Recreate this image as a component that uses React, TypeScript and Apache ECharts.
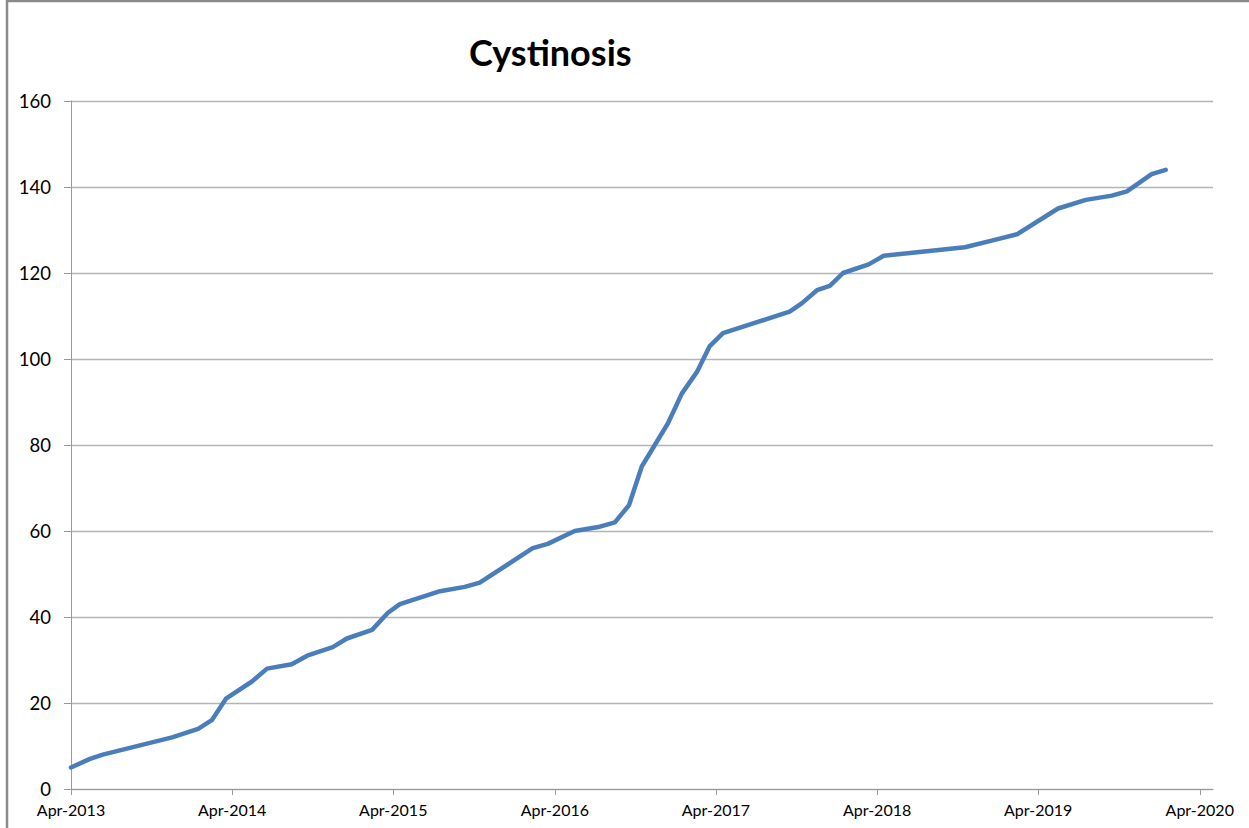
import React, { useEffect, useRef } from "react";
import * as echarts from "echarts";

const chartTitle = "Cystinosis";

const dates = [
  "2013-04-01", "2013-05-14", "2013-06-12", "2013-11-16", "2014-01-14", "2014-02-14",
  "2014-03-18", "2014-05-16", "2014-06-19", "2014-08-14", "2014-09-18", "2014-11-15",
  "2014-12-17", "2015-02-12", "2015-03-20", "2015-04-16", "2015-07-16", "2015-09-10",
  "2015-10-14", "2016-02-11", "2016-03-16", "2016-05-16", "2016-07-12", "2016-08-15",
  "2016-09-16", "2016-10-15", "2016-12-13", "2017-01-14", "2017-02-17", "2017-03-18",
  "2017-04-17", "2017-09-15", "2017-10-13", "2017-11-16", "2017-12-15", "2018-01-14",
  "2018-03-13", "2018-04-16", "2018-10-17", "2019-01-04", "2019-02-12", "2019-05-16",
  "2019-07-18", "2019-09-15", "2019-10-19", "2019-12-14", "2020-01-15",
];

const counts = [
  5, 7, 8, 12, 14, 16,
  21, 25, 28, 29, 31, 33,
  35, 37, 41, 43, 46, 47,
  48, 56, 57, 60, 61, 62,
  66, 75, 85, 92, 97, 103,
  106, 111, 113, 116, 117, 120,
  122, 124, 126, 128, 129, 135,
  137, 138, 139, 143, 144,
];

const tickYears = [2013, 2014, 2015, 2016, 2017, 2018, 2019, 2020];
const yTicks = [0, 20, 40, 60, 80, 100, 120, 140, 160];
const axisStart = "2013-04-01";
const axisEnd = "2020-05-01";

const DAY = 86400000;
function dayIndex(s: string): number {
  const [y, m, d] = s.split("-").map(Number);
  const [y0, m0, d0] = axisStart.split("-").map(Number);
  return Math.round((Date.UTC(y, m - 1, d) - Date.UTC(y0, m0 - 1, d0)) / DAY);
}

export default function App() {
  const ref = useRef<HTMLDivElement>(null);
  useEffect(() => {
    if (!ref.current) return;
    const chart = echarts.init(ref.current, null, { renderer: "svg" });
    const tickVals = tickYears.map((y) => dayIndex(`${y}-04-01`));
    const labelOf: Record<number, string> = {};
    tickYears.forEach((y, i) => {
      labelOf[tickVals[i]] = "Apr-" + y;
    });
    const seriesData = dates.map((d, i) => [dayIndex(d), counts[i]]);
    chart.setOption({
      animation: false,
      backgroundColor: "#ffffff",
      title: {
        text: chartTitle,
        left: 464,
        top: 29,
        textStyle: {
          fontFamily: "Lato",
          fontWeight: "bold",
          fontSize: 36,
          color: "#000000",
        },
      },
      graphic: [
        {
          type: "rect",
          shape: { x: 7, y: 1, width: 1300, height: 900 },
          style: { fill: "none", stroke: "#8a8a8a", lineWidth: 2.5 },
          silent: true,
        },
      ],
      grid: { left: 71, right: 36, top: 101, bottom: 39, containLabel: false },
      xAxis: {
        type: "value",
        min: 0,
        max: dayIndex(axisEnd),
        axisLine: { show: true, lineStyle: { color: "#9a9a9a", width: 1 } },
        axisTick: {
          show: true,
          length: 6,
          inside: false,
          customValues: tickVals,
          lineStyle: { color: "#9a9a9a" },
        },
        axisLabel: {
          customValues: tickVals,
          formatter: (v: number) => labelOf[Math.round(v)] ?? "",
          fontFamily: "Lato",
          fontSize: 16,
          color: "#000000",
          margin: 12,
          hideOverlap: false,
          showMinLabel: true,
          showMaxLabel: true,
        },
        splitLine: { show: false },
      },
      yAxis: {
        type: "value",
        min: yTicks[0],
        max: yTicks[yTicks.length - 1],
        interval: 20,
        axisLine: { show: true, lineStyle: { color: "#9a9a9a", width: 1 } },
        axisTick: { show: true, length: 7, inside: false, lineStyle: { color: "#9a9a9a" } },
        axisLabel: {
          fontFamily: "Lato",
          fontSize: 18.5,
          color: "#000000",
          margin: 20,
        },
        splitLine: { show: true, lineStyle: { color: "#b4b4b4", width: 1.3 } },
      },
      series: [
        {
          type: "line",
          data: seriesData,
          showSymbol: false,
          symbol: "none",
          lineStyle: { color: "#4a7ebb", width: 4.5, join: "round", cap: "round" },
          itemStyle: { color: "#4a7ebb" },
        },
      ],
    });
    return () => chart.dispose();
  }, []);
  return (
    <div
      ref={ref}
      style={{ position: "fixed", left: 0, top: 0, width: 1249, height: 828 }}
    />
  );
}
